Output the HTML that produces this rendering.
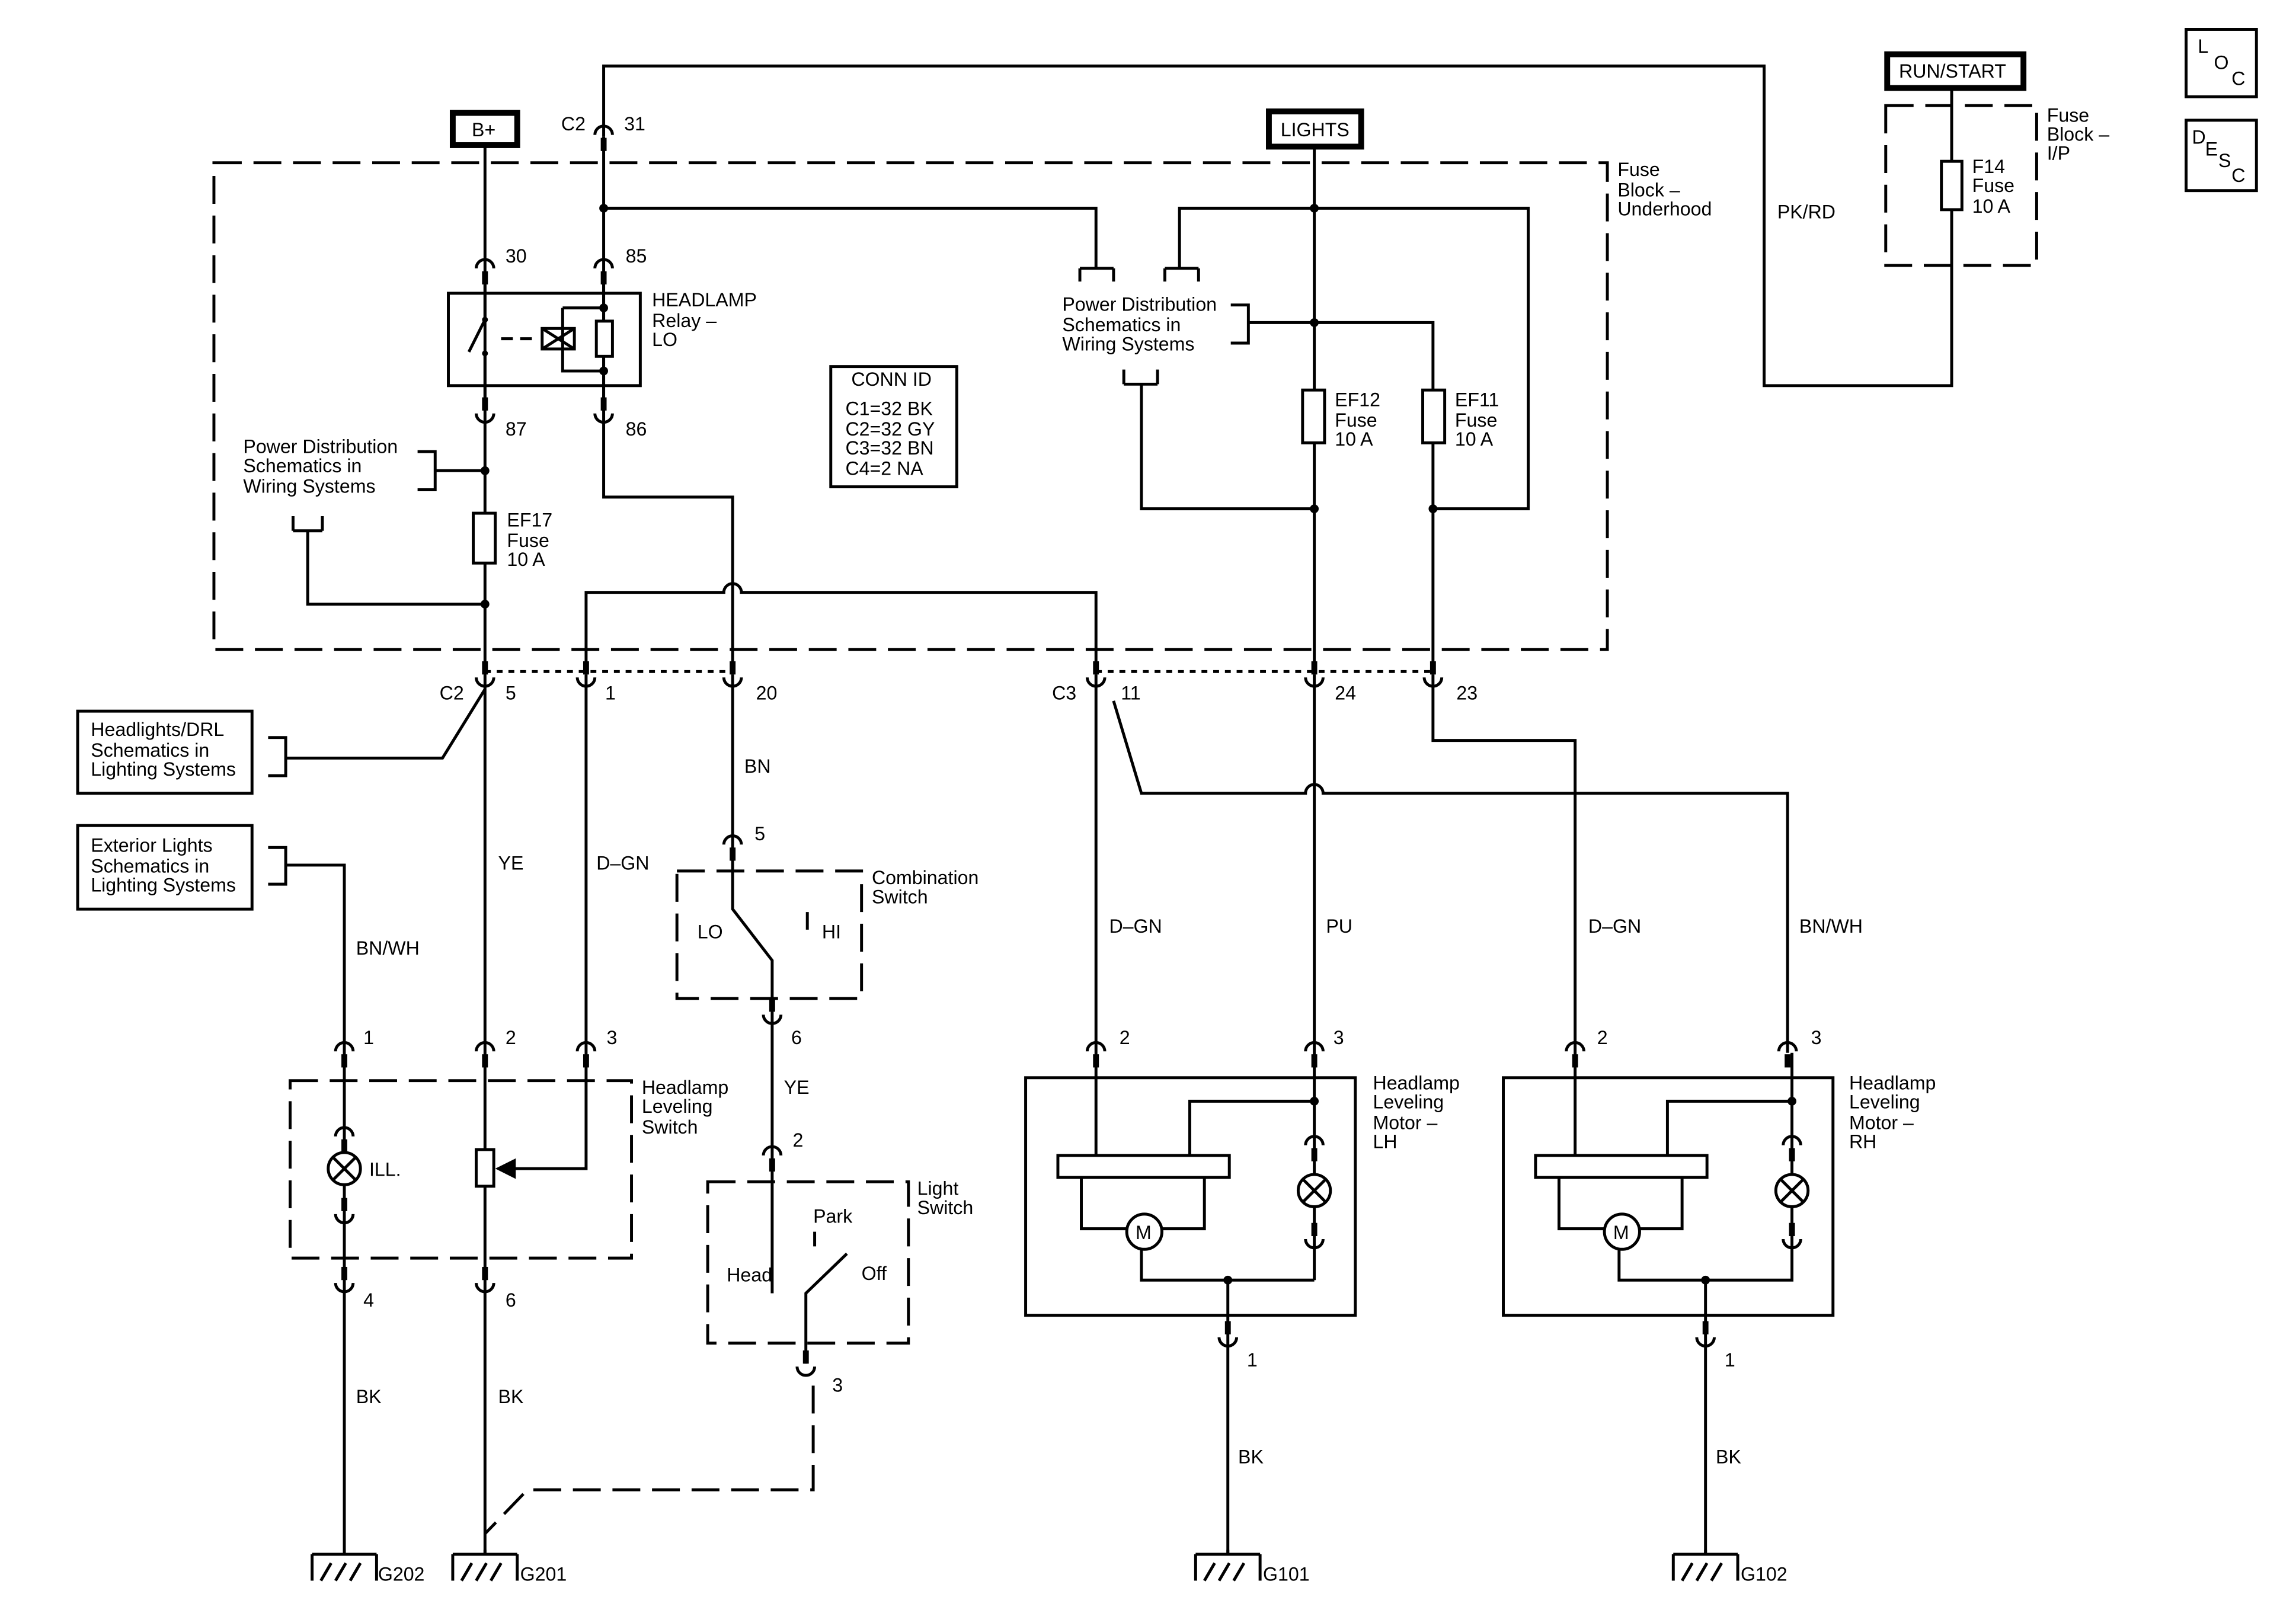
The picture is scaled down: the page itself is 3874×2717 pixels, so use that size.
<!DOCTYPE html>
<html><head><meta charset="utf-8"><style>
html,body{margin:0;padding:0;background:#fff;}
svg{display:block;}
text{font-family:"Liberation Sans",Arial,sans-serif;font-size:13px;fill:#000;}
</style></head><body>
<svg width="3874" height="2717" viewBox="0 0 1567 1098" preserveAspectRatio="none" xmlns="http://www.w3.org/2000/svg">
<defs>
<g id="ct"><path d="M-6,5 A6,6 0 0 1 6,5" fill="none" stroke="#000" stroke-width="2"/><rect x="-2" y="7" width="4" height="9" fill="#000"/></g>
<g id="cb"><rect x="-2" y="-16" width="4" height="9" fill="#000"/><path d="M-6,-5 A6,6 0 0 0 6,-5" fill="none" stroke="#000" stroke-width="2"/></g>
<g id="gnd"><path d="M-22,0 H22 M-22,0 V18 M-16,18 L-9,6 M-6,18 L1,6 M4,18 L11,6 M22,0 V18" fill="none" stroke="#000" stroke-width="2"/><path d="M0,-3 V0" stroke="#000" stroke-width="2"/></g>
<g id="lamp"><circle r="11" fill="#fff" stroke="#000" stroke-width="2"/><path d="M-7.5,-7.5 L7.5,7.5 M7.5,-7.5 L-7.5,7.5" stroke="#000" stroke-width="2"/></g>
</defs>
<rect width="1567" height="1098" fill="#fff"/>
<g fill="none" stroke="#000" stroke-width="2">
<g stroke-dasharray="19,8">
<rect x="146" y="111" width="951" height="332"/>
<rect x="1287" y="72" width="103" height="109"/>
<rect x="462" y="594" width="126" height="87"/>
<rect x="198" y="737" width="233" height="121"/>
<rect x="483" y="806" width="137" height="110"/>
<path d="M331,458 H500 M748,458 H978" stroke-dasharray="4,4"/>
<path d="M555,945 V1016 H360 L331,1046"/>
</g>
<rect x="1492" y="20" width="48" height="46"/>
<rect x="1492" y="82" width="48" height="48"/>
<rect x="567" y="250" width="86" height="82"/>
<rect x="53" y="485" width="119" height="56"/>
<rect x="53" y="563" width="119" height="57"/>
<rect x="309" y="77" width="44" height="22" stroke-width="4"/>
<rect x="866" y="76" width="63" height="24" stroke-width="4"/>
<rect x="1288" y="37" width="93" height="23" stroke-width="4"/>
<path d="M412,93 V45 H1204 V263 H1332 V60"/>
<rect x="1325" y="110" width="14" height="33" fill="#fff"/>
<path d="M331,99 V1060"/>
<path d="M412,93 V339 H500 V460"/>
<path d="M412,142 H748 V183 M737,183 H760 M737,183 V192 M760,183 V192"/>
<path d="M400,460 V404 H494 A6,6 0 0 1 506,404 H748 V460"/>
<path d="M897,101 V460 M897,142 H805 V183 M795,183 H818 M795,183 V192 M818,183 V192 M897,142 H1043 V347 H978"/>
<path d="M897,220 H978 V460 M852,220 H897 M840,208 H852 V234 H840"/>
<path d="M779,262 V347 H897 M767,262 H790 M767,262 V252 M790,262 V252"/>
<rect x="889" y="266" width="15" height="36" fill="#fff"/>
<rect x="971" y="266" width="15" height="36" fill="#fff"/>
<path d="M331,321 H297 M285,308 H297 V334 H285"/>
<rect x="323" y="350" width="15" height="34" fill="#fff"/>
<path d="M331,412 H210 V362 M200,362 H220 M200,362 V352 M220,362 V352"/>
<rect x="306" y="200" width="131" height="63"/>
<path d="M331,185 V218 L320,240 M331,241 V280 M412,185 V280 M384,210 H412 M384,210 V253 H412"/>
<path d="M342,231 H368" stroke-dasharray="8,5"/>
<rect x="370" y="224" width="22" height="14"/><path d="M370,224 L392,238 M392,224 L370,238"/>
<rect x="407" y="219" width="11" height="24" fill="#fff"/>
<path d="M331,470 L302,517 H195 M183,503 H195 V529 H183"/>
<path d="M195,590 H235 V1060 M183,578 H195 V603 H183"/>
<path d="M400,460 V797 H345"/>
<rect x="325" y="784" width="12" height="25" fill="#fff"/>
<path d="M500,460 V620 L527,655 V806 M551,622 V634"/>
<path d="M527,806 V882 M550,930 V882 L578,855 M556,840 V850"/>
<path d="M748,460 V788 M760,478 L779,541 H891 A6,6 0 0 1 903,541 H1220 V718 M978,460 V505 H1075 V788 M897,460 V873"/>
<rect x="700" y="735" width="225" height="162"/>
<rect x="1026" y="735" width="225" height="162"/>
<rect x="722" y="788" width="117" height="15"/>
<rect x="1048" y="788" width="117" height="15"/>
<path d="M738,803 V838 H769 M793,838 H822 V803 M812,788 V751 H897 M897,873 H779 V852 M838,873 V1060"/>
<path d="M1064,803 V838 H1095 M1119,838 H1148 V803 M1138,788 V751 H1223 M1223,718 V873 H1105 V852 M1164,873 V1060"/>
<circle cx="781" cy="840" r="12"/><circle cx="1107" cy="840" r="12"/>
</g>
<path d="M338,797 L352,790 L352,804 Z" fill="#000"/>
<g fill="#000">
<circle cx="412" cy="142" r="3"/><circle cx="412" cy="210" r="3"/><circle cx="412" cy="253" r="3"/>
<circle cx="897" cy="142" r="3"/><circle cx="897" cy="220" r="3"/><circle cx="897" cy="347" r="3"/><circle cx="978" cy="347" r="3"/>
<circle cx="331" cy="321" r="3"/><circle cx="331" cy="412" r="3"/>
<circle cx="897" cy="751" r="3"/><circle cx="838" cy="873" r="3"/><circle cx="1223" cy="751" r="3"/><circle cx="1164" cy="873" r="3"/>
<circle cx="331" cy="218" r="2"/><circle cx="331" cy="241" r="2"/>
</g>
<use href="#ct" x="412" y="87"/>
<use href="#ct" x="331" y="178"/><use href="#ct" x="412" y="178"/>
<use href="#cb" x="331" y="287"/><use href="#cb" x="412" y="287"/>
<use href="#cb" x="331" y="467"/><use href="#cb" x="400" y="467"/><use href="#cb" x="500" y="467"/>
<use href="#cb" x="748" y="467"/><use href="#cb" x="897" y="467"/><use href="#cb" x="978" y="467"/>
<use href="#ct" x="500" y="571"/><use href="#cb" x="527" y="697"/><use href="#ct" x="527" y="783"/><use href="#cb" x="550" y="937"/>
<use href="#ct" x="235" y="712"/><use href="#ct" x="331" y="712"/><use href="#ct" x="400" y="712"/>
<use href="#ct" x="235" y="770"/><use href="#cb" x="235" y="833"/>
<use href="#cb" x="235" y="880"/><use href="#cb" x="331" y="880"/>
<use href="#ct" x="748" y="712"/><use href="#ct" x="897" y="712"/><use href="#ct" x="1075" y="712"/><use href="#ct" x="1220" y="712"/>
<use href="#ct" x="897" y="776"/><use href="#cb" x="897" y="850"/><use href="#ct" x="1223" y="776"/><use href="#cb" x="1223" y="850"/>
<use href="#cb" x="838" y="917"/><use href="#cb" x="1164" y="917"/>
<use href="#lamp" x="235" y="797"/><use href="#lamp" x="897" y="812"/><use href="#lamp" x="1223" y="812"/>
<use href="#gnd" x="235" y="1060"/><use href="#gnd" x="331" y="1060"/><use href="#gnd" x="838" y="1060"/><use href="#gnd" x="1164" y="1060"/>
<text x="322" y="93">B+</text><text x="874" y="93">LIGHTS</text><text x="1296" y="53">RUN/START</text>
<text x="1500" y="36">L</text><text x="1511" y="47">O</text><text x="1523" y="58">C</text>
<text x="1496" y="98">D</text><text x="1505" y="106">E</text><text x="1514" y="114">S</text><text x="1523" y="124">C</text>
<text x="1397" y="83">Fuse</text><text x="1397" y="96">Block –</text><text x="1397" y="109">I/P</text>
<text x="1346" y="118">F14</text><text x="1346" y="131">Fuse</text><text x="1346" y="145">10 A</text>
<text x="1213" y="149">PK/RD</text>
<text x="383" y="89">C2</text><text x="426" y="89">31</text>
<text x="1104" y="120">Fuse</text><text x="1104" y="134">Block –</text><text x="1104" y="147">Underhood</text>
<text x="345" y="179">30</text><text x="427" y="179">85</text><text x="345" y="297">87</text><text x="427" y="297">86</text>
<text x="445" y="209">HEADLAMP</text><text x="445" y="223">Relay –</text><text x="445" y="236">LO</text>
<text x="166" y="309">Power Distribution</text><text x="166" y="322">Schematics in</text><text x="166" y="336">Wiring Systems</text>
<text x="346" y="359">EF17</text><text x="346" y="373">Fuse</text><text x="346" y="386">10 A</text>
<text x="581" y="263">CONN ID</text><text x="577" y="283">C1=32 BK</text><text x="577" y="297">C2=32 GY</text><text x="577" y="310">C3=32 BN</text><text x="577" y="324">C4=2 NA</text>
<text x="725" y="212">Power Distribution</text><text x="725" y="226">Schematics in</text><text x="725" y="239">Wiring Systems</text>
<text x="911" y="277">EF12</text><text x="911" y="291">Fuse</text><text x="911" y="304">10 A</text>
<text x="993" y="277">EF11</text><text x="993" y="291">Fuse</text><text x="993" y="304">10 A</text>
<text x="300" y="477">C2</text><text x="345" y="477">5</text><text x="413" y="477">1</text><text x="516" y="477">20</text>
<text x="718" y="477">C3</text><text x="765" y="477">11</text><text x="911" y="477">24</text><text x="994" y="477">23</text>
<text x="62" y="502">Headlights/DRL</text><text x="62" y="516">Schematics in</text><text x="62" y="529">Lighting Systems</text>
<text x="62" y="581">Exterior Lights</text><text x="62" y="595">Schematics in</text><text x="62" y="608">Lighting Systems</text>
<text x="508" y="527">BN</text><text x="340" y="593">YE</text><text x="407" y="593">D–GN</text><text x="243" y="651">BN/WH</text>
<text x="515" y="573">5</text><text x="595" y="603">Combination</text><text x="595" y="616">Switch</text>
<text x="476" y="640">LO</text><text x="561" y="640">HI</text>
<text x="540" y="712">6</text><text x="535" y="746">YE</text><text x="541" y="782">2</text>
<text x="626" y="815">Light</text><text x="626" y="828">Switch</text>
<text x="555" y="834">Park</text><text x="496" y="874">Head</text><text x="588" y="873">Off</text><text x="568" y="949">3</text>
<text x="248" y="712">1</text><text x="345" y="712">2</text><text x="414" y="712">3</text>
<text x="438" y="746">Headlamp</text><text x="438" y="759">Leveling</text><text x="438" y="773">Switch</text>
<text x="252" y="802">ILL.</text>
<text x="248" y="891">4</text><text x="345" y="891">6</text><text x="243" y="957">BK</text><text x="340" y="957">BK</text>
<text x="258" y="1078">G202</text><text x="355" y="1078">G201</text><text x="862" y="1078">G101</text><text x="1188" y="1078">G102</text>
<text x="757" y="636">D–GN</text><text x="905" y="636">PU</text><text x="1084" y="636">D–GN</text><text x="1228" y="636">BN/WH</text>
<text x="764" y="712">2</text><text x="910" y="712">3</text><text x="1090" y="712">2</text><text x="1236" y="712">3</text>
<text x="937" y="743">Headlamp</text><text x="937" y="756">Leveling</text><text x="937" y="770">Motor –</text><text x="937" y="783">LH</text>
<text x="1262" y="743">Headlamp</text><text x="1262" y="756">Leveling</text><text x="1262" y="770">Motor –</text><text x="1262" y="783">RH</text>
<text x="775" y="845" font-size="12">M</text><text x="1101" y="845" font-size="12">M</text>
<text x="851" y="932">1</text><text x="1177" y="932">1</text><text x="845" y="998">BK</text><text x="1171" y="998">BK</text>
</svg>
</body></html>
